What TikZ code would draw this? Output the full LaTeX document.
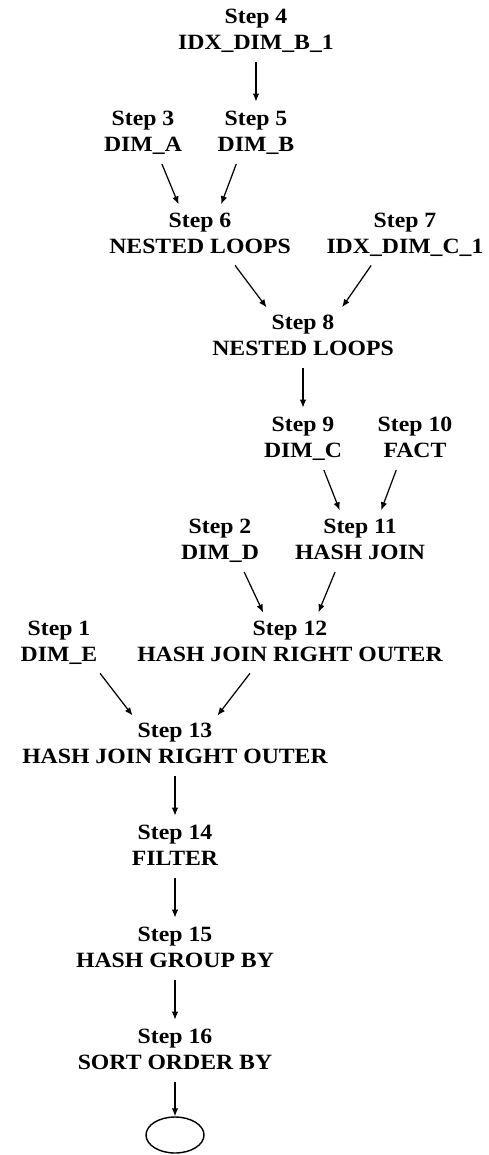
\documentclass[tikz,border=0pt]{standalone}
\usepackage{fontspec}
\setmainfont{Liberation Serif}[FakeStretch=1.09]
\usetikzlibrary{arrows.meta,shapes.geometric}

\tikzset{
  steplbl/.style={align=center, inner sep=0pt,
    font=\fontsize{12.4}{14.7}\selectfont\bfseries,
    execute at begin node=\strut, execute at end node=\strut},
  flow/.style={-{Latex[length=1.6mm,width=1.3mm]}, line width=0.7pt,
    shorten <=0.1cm, shorten >=0.18cm},
}

\begin{document}
\begin{tikzpicture}[x=0.02cm, y=-0.02cm]
    \useasboundingbox (0,0) rectangle (489,1155);

    % Index and table accesses
    \node[steplbl] (s4) at (256,33) {Step 4\\IDX\_DIM\_B\_1};
    \node[steplbl] (s3) at (143,135) {Step 3\\DIM\_A};
    \node[steplbl] (s5) at (256,135) {Step 5\\DIM\_B};
    \node[steplbl] (s6) at (200,237) {Step 6\\NESTED LOOPS};
    \node[steplbl] (s7) at (405,237) {Step 7\\IDX\_DIM\_C\_1};
    \node[steplbl] (s8) at (303,339) {Step 8\\NESTED LOOPS};
    \node[steplbl] (s9) at (303,441) {Step 9\\DIM\_C};
    \node[steplbl] (s10) at (415,441) {Step 10\\FACT};
    \node[steplbl] (s2) at (220,543) {Step 2\\DIM\_D};
    \node[steplbl] (s11) at (360,543) {Step 11\\HASH JOIN};
    \node[steplbl] (s1) at (59,645) {Step 1\\DIM\_E};
    \node[steplbl] (s12) at (290,645) {Step 12\\HASH JOIN RIGHT OUTER};

    % Main chain
    \node[steplbl] (s13) at (175,747) {Step 13\\HASH JOIN RIGHT OUTER};
    \node[steplbl] (s14) at (175,849) {Step 14\\FILTER};
    \node[steplbl] (s15) at (175,951) {Step 15\\HASH GROUP BY};
    \node[steplbl] (s16) at (175,1053) {Step 16\\SORT ORDER BY};
    \node[draw, ellipse, line width=0.8pt, minimum width=1.16cm, minimum height=0.72cm] (root) at (175,1135) {};

    % Connectors
    \draw[flow] (s4.south) -- (s5.north);
    \draw[flow] ([xshift=0.34cm]s3.south) -- ([xshift=-0.36cm]s6.north);
    \draw[flow] ([xshift=-0.36cm]s5.south) -- ([xshift=0.36cm]s6.north);
    \draw[flow] ([xshift=0.64cm]s6.south) -- ([xshift=-0.62cm]s8.north);
    \draw[flow] ([xshift=-0.62cm]s7.south) -- ([xshift=0.68cm]s8.north);
    \draw[flow] (s8.south) -- (s9.north);
    \draw[flow] ([xshift=0.38cm]s9.south) -- ([xshift=-0.34cm]s11.north);
    \draw[flow] ([xshift=-0.34cm]s10.south) -- ([xshift=0.36cm]s11.north);
    \draw[flow] ([xshift=0.44cm]s2.south) -- ([xshift=-0.46cm]s12.north);
    \draw[flow] ([xshift=-0.46cm]s11.south) -- ([xshift=0.5cm]s12.north);
    \draw[flow] ([xshift=0.76cm]s1.south) -- ([xshift=-0.74cm]s13.north);
    \draw[flow] ([xshift=-0.74cm]s12.south) -- ([xshift=0.74cm]s13.north);
    \draw[flow] (s13.south) -- (s14.north);
    \draw[flow] (s14.south) -- (s15.north);
    \draw[flow] (s15.south) -- (s16.north);
    \draw[flow, shorten >=0pt] (s16.south) -- (root.north);
\end{tikzpicture}
\end{document}
